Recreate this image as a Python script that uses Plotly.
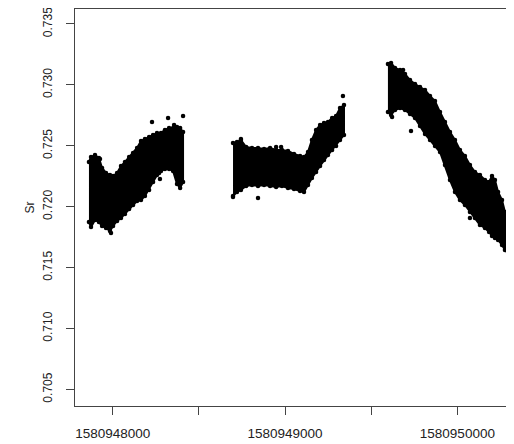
import plotly.graph_objects as go

# --- data (time in epoch seconds, Sr ratio) ---
seg1_time = [1580947862, 1580947874, 1580947897, 1580947920, 1580947938, 1580947961,
             1580947984, 1580948002, 1580948025, 1580948048, 1580948071, 1580948095,
             1580948118, 1580948141, 1580948164, 1580948187, 1580948211, 1580948234,
             1580948257, 1580948280, 1580948303, 1580948327, 1580948350, 1580948373,
             1580948391, 1580948408]
seg1_upper = [0.72367, 0.72408, 0.72424, 0.72400, 0.72318, 0.72277, 0.72260, 0.72252,
              0.72277, 0.72334, 0.72367, 0.72408, 0.72441, 0.72482, 0.72539, 0.72556,
              0.72572, 0.72589, 0.72605, 0.72605, 0.72630, 0.72646, 0.72646, 0.72654,
              0.72646, 0.72613]
seg1_lower = [0.71874, 0.71833, 0.71891, 0.71874, 0.71842, 0.71825, 0.71800, 0.71842,
              0.71883, 0.71907, 0.71940, 0.71981, 0.72014, 0.72047, 0.72055, 0.72088,
              0.72137, 0.72203, 0.72260, 0.72293, 0.72310, 0.72310, 0.72293, 0.72186,
              0.72154, 0.72203]

seg2_time = [1580948698, 1580948721, 1580948744, 1580948774, 1580948808, 1580948843,
             1580948878, 1580948913, 1580948948, 1580948982, 1580949017, 1580949052,
             1580949087, 1580949110, 1580949133, 1580949156, 1580949180, 1580949203,
             1580949226, 1580949249, 1580949273, 1580949296, 1580949319, 1580949342]
seg2_upper = [0.72523, 0.72531, 0.72548, 0.72490, 0.72482, 0.72482, 0.72474, 0.72482,
              0.72466, 0.72466, 0.72457, 0.72433, 0.72416, 0.72408, 0.72449, 0.72548,
              0.72630, 0.72671, 0.72687, 0.72695, 0.72728, 0.72745, 0.72810, 0.72835]
seg2_lower = [0.72088, 0.72121, 0.72137, 0.72170, 0.72178, 0.72170, 0.72178, 0.72170,
              0.72162, 0.72170, 0.72154, 0.72145, 0.72129, 0.72121, 0.72178, 0.72236,
              0.72285, 0.72334, 0.72383, 0.72424, 0.72466, 0.72498, 0.72548, 0.72589]

seg3_time = [1580949597, 1580949615, 1580949638, 1580949667, 1580949696, 1580949725,
             1580949754, 1580949783, 1580949812, 1580949841, 1580949870, 1580949899,
             1580949928, 1580949957, 1580949986, 1580950015, 1580950044, 1580950073,
             1580950102, 1580950131, 1580950160, 1580950184, 1580950201, 1580950218,
             1580950236, 1580950259, 1580950276, 1580950294]
seg3_upper = [0.73172, 0.73180, 0.73139, 0.73122, 0.73089, 0.73040, 0.73007, 0.72983,
              0.72958, 0.72909, 0.72868, 0.72777, 0.72695, 0.72613, 0.72548, 0.72466,
              0.72416, 0.72342, 0.72285, 0.72260, 0.72219, 0.72203, 0.72252, 0.72219,
              0.72121, 0.72055, 0.71956, 0.71850]
seg3_lower = [0.72777, 0.72753, 0.72794, 0.72810, 0.72794, 0.72761, 0.72728, 0.72663,
              0.72597, 0.72548, 0.72498, 0.72449, 0.72342, 0.72219, 0.72121, 0.72055,
              0.72014, 0.71956, 0.71907, 0.71850, 0.71825, 0.71792, 0.71759, 0.71743,
              0.71727, 0.71686, 0.71645, 0.71628]

stray_time = [1580948228, 1580948321, 1580948408, 1580948356, 1580947990, 1580947926,
              1580948269, 1580948274, 1580948744, 1580948698, 1580948843, 1580949336,
              1580948948, 1580948977, 1580949621, 1580949731, 1580949685, 1580950073]
stray_sr = [0.72695, 0.72728, 0.72745, 0.72671, 0.71784, 0.72392,
            0.72277, 0.72228, 0.72556, 0.72080, 0.72071, 0.72909,
            0.72490, 0.72490, 0.72736, 0.72622, 0.73122, 0.71907]

x_tickvals = [1580948000, 1580948500, 1580949000, 1580949500, 1580950000]
x_ticktext = ["1580948000", "", "1580949000", "", "1580950000"]
y_tickvals = [0.705, 0.710, 0.715, 0.720, 0.725, 0.730, 0.735]
y_ticktext = ["0.705", "0.710", "0.715", "0.720", "0.725", "0.730", "0.735"]

fig = go.Figure()
for t, up, lo in [(seg1_time, seg1_upper, seg1_lower),
                  (seg2_time, seg2_upper, seg2_lower),
                  (seg3_time, seg3_upper, seg3_lower)]:
    fig.add_trace(go.Scatter(x=t + t[::-1], y=up + lo[::-1], mode="lines",
                             fill="toself", fillcolor="black",
                             line=dict(color="black", width=2),
                             hoverinfo="skip", showlegend=False))
    fig.add_trace(go.Scatter(x=t + t, y=up + lo, mode="markers",
                             marker=dict(color="black", size=4.5),
                             showlegend=False))
fig.add_trace(go.Scatter(x=stray_time, y=stray_sr, mode="markers",
                         marker=dict(color="black", size=4.5), showlegend=False))

font = "Liberation Sans, Arial, sans-serif"
fig.update_layout(
    width=514, height=444,
    margin=dict(l=67, r=0, t=1, b=46),
    paper_bgcolor="white", plot_bgcolor="white",
    font=dict(family=font, color="#222"),
    xaxis=dict(range=[1580947781, 1580950375], tickvals=x_tickvals, ticktext=x_ticktext,
               ticks="outside", ticklen=8, tickcolor="#444", showline=True,
               linecolor="#444", linewidth=1, mirror=True, showgrid=False,
               zeroline=False, automargin=False,
               tickfont=dict(size=13.5, family=font, color="#222"),
               ticklabelstandoff=7),
    yaxis=dict(range=[0.703637, 0.736231], tickvals=y_tickvals, ticktext=y_ticktext,
               ticks="outside", ticklen=8, tickcolor="#444", showline=True,
               linecolor="#444", linewidth=1, showgrid=False, zeroline=False,
               automargin=False, tickangle=-90, ticklabeloverflow="allow",
               tickfont=dict(size=12, family=font, color="#222"),
               ticklabelstandoff=9,
               title=dict(text="Sr", font=dict(size=12, family=font, color="#222"),
                          standoff=4)),
)
fig.write_html("out.html")
